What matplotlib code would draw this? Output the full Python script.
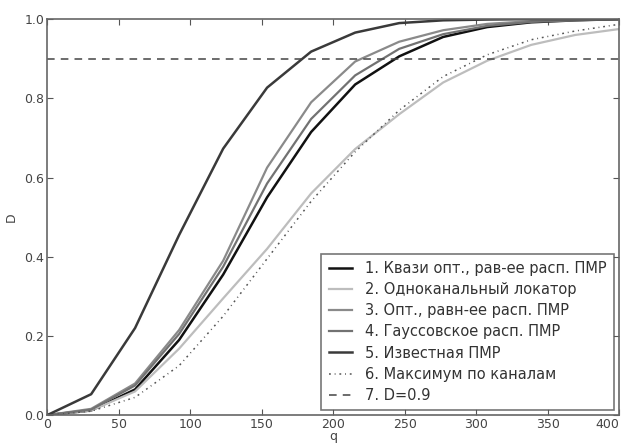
import numpy as np
import matplotlib
matplotlib.use("Agg")
import matplotlib.pyplot as plt

q = [0, 30.8, 61.5, 92.3, 123.1, 153.8, 184.6, 215.4, 246.2, 276.9, 307.7, 338.5, 369.2, 400]

d_quasi = [0, 0.012, 0.065, 0.19, 0.355, 0.55, 0.715, 0.835, 0.906, 0.955, 0.98, 0.992, 0.997, 1.0]
d_single = [0, 0.012, 0.06, 0.168, 0.295, 0.42, 0.56, 0.672, 0.76, 0.84, 0.895, 0.935, 0.96, 0.975]
d_opt = [0, 0.016, 0.08, 0.215, 0.39, 0.625, 0.79, 0.893, 0.943, 0.972, 0.988, 0.995, 0.998, 1.0]
d_gauss = [0, 0.014, 0.075, 0.205, 0.375, 0.585, 0.748, 0.858, 0.925, 0.962, 0.983, 0.993, 0.997, 1.0]
d_known = [0, 0.053, 0.22, 0.455, 0.673, 0.827, 0.918, 0.966, 0.99, 0.997, 0.999, 1.0, 1.0, 1.0]
d_max = [0, 0.01, 0.045, 0.125, 0.25, 0.395, 0.54, 0.665, 0.77, 0.855, 0.91, 0.948, 0.97, 0.987]
d_level = 0.9

labels = ["1. Квази опт., рав-ее расп. ПМР",
          "2. Одноканальный локатор",
          "3. Опт., равн-ее расп. ПМР",
          "4. Гауссовское расп. ПМР",
          "5. Известная ПМР",
          "6. Максимум по каналам",
          "7. D=0.9"]

plt.rcParams['font.family'] = ['DejaVu Sans']
txt = '#444444'
fig = plt.figure(figsize=(6.28, 4.45), dpi=100)
ax = fig.add_axes([0.075, 0.067, 0.911, 0.890])

ax.plot(q, d_quasi, color='#111111', lw=1.8, label=labels[0])
ax.plot(q, d_single, color='#bdbdbd', lw=1.6, label=labels[1])
ax.plot(q, d_opt, color='#8a8a8a', lw=1.6, label=labels[2])
ax.plot(q, d_gauss, color='#727272', lw=1.6, label=labels[3])
ax.plot(q, d_known, color='#3a3a3a', lw=1.8, label=labels[4])
ax.plot(q, d_max, color='#555555', lw=1.1, dashes=[1.2, 2.5, 0.6, 2.5], label=labels[5])
ax.axhline(d_level, xmin=0.0, xmax=1.0, color='#444444', lw=1.1, dashes=[5, 4], label=labels[6])

ax.set_xlim(0, 400)
ax.set_ylim(0, 1.0)
ax.set_xticks(np.arange(0, 401, 50))
ax.set_yticks(np.arange(0, 1.01, 0.2))
ax.set_xticklabels([str(v) for v in range(0, 401, 50)])
ax.tick_params(direction='in', top=True, right=True, length=4, labelsize=9,
               colors='#555555', labelcolor=txt, pad=2)
for s in ax.spines.values():
    s.set_color('#666666')
    s.set_linewidth(1.2)
ax.set_xlabel('q', fontsize=9, color=txt, labelpad=-0.5)
ax.set_ylabel('D', fontsize=9, color=txt, labelpad=5)
lbls = ax.get_xticklabels()
lbls[-1].set_horizontalalignment('right')

leg = ax.legend(loc='lower right', fontsize=10.5, frameon=True, fancybox=False,
                borderaxespad=0.35, handlelength=1.6, labelspacing=0.42,
                handletextpad=0.9, borderpad=0.5)
leg.get_frame().set_edgecolor('#555555')
leg.get_frame().set_linewidth(1.2)
for t in leg.get_texts():
    t.set_color('#333333')

fig.savefig('out.png', dpi=100)
